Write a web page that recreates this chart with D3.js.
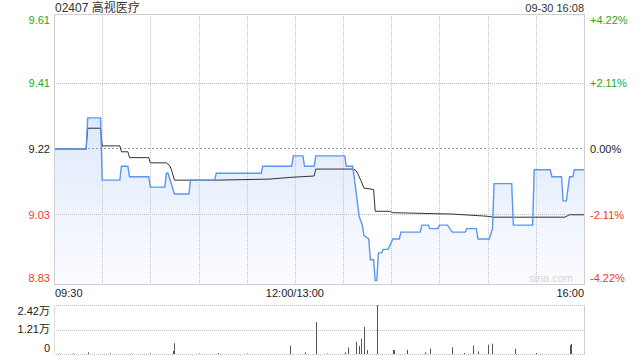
<!DOCTYPE html>
<html>
<head>
    <meta charset="utf-8">
    <title>02407 高视医疗</title>
    <script src="https://d3js.org/d3.v7.min.js"></script>
    <style>
        body { margin: 0; background: #fff; }
        svg text { font-family: "Liberation Sans", Arial, "Noto Sans CJK SC", sans-serif; }
        .frame { fill: none; stroke: #cfcfcf; }
    </style>
</head>
<body>
<div id="chart"></div>
<script>
    // 分时数据 (分钟: 从09:30起的交易分钟, 共330分钟)
    const priceMin = [0, 20, 21, 29, 30, 41, 42, 46, 47, 59, 60, 69, 70, 71, 75, 84, 85, 100, 101, 129, 130, 148, 149, 155, 156, 162, 163, 181, 182, 186, 188, 190, 192, 193, 196, 197, 199, 200, 201, 202, 204, 205, 208, 211, 215, 216, 228, 229, 233, 234, 239, 240, 245, 248, 256, 257, 263, 264, 271, 273, 274, 285, 286, 298, 299, 309, 310, 316, 317, 319, 321, 323, 324, 330];
    const priceVal = [9.22, 9.22, 9.31, 9.31, 9.13, 9.13, 9.17, 9.17, 9.14, 9.14, 9.11, 9.11, 9.15, 9.15, 9.09, 9.09, 9.13, 9.13, 9.15, 9.15, 9.17, 9.17, 9.20, 9.20, 9.17, 9.17, 9.20, 9.20, 9.17, 9.17, 9.10, 9.025, 9.00, 8.97, 8.96, 8.90, 8.90, 8.84, 8.84, 8.92, 8.92, 8.93, 8.93, 8.96, 8.96, 8.98, 8.98, 9.00, 9.00, 8.99, 8.99, 9.00, 9.00, 8.98, 8.98, 8.99, 8.99, 8.96, 8.96, 8.99, 9.12, 9.12, 9.00, 9.00, 9.16, 9.16, 9.14, 9.14, 9.07, 9.07, 9.14, 9.14, 9.16, 9.16];

    // 均价线
    const avgMin = [0, 20, 21, 29, 30, 41, 42, 46, 47, 59, 60, 70, 72, 73, 75, 101, 134, 145, 147, 162, 163, 186, 188, 189, 191, 193, 199, 200, 209, 211, 248, 269, 274, 318, 321, 330];
    const avgVal = [9.22, 9.22, 9.28, 9.28, 9.229, 9.229, 9.212, 9.212, 9.195, 9.195, 9.18, 9.18, 9.172, 9.162, 9.13, 9.13, 9.133, 9.137, 9.138, 9.142, 9.162, 9.162, 9.158, 9.15, 9.13, 9.107, 9.103, 9.04, 9.04, 9.036, 9.032, 9.026, 9.023, 9.023, 9.03, 9.03];

    // 成交量 (万股)
    const volMin = [3, 12, 21, 35, 48, 60, 74, 75, 90, 102, 120, 147, 156, 163, 170, 181, 183, 188, 190, 191, 193, 195, 201, 211, 212, 220, 231, 234, 248, 255, 261, 264, 270, 273, 287, 300, 321, 322];
    const volVal = [0.03, 0.03, 0.08, 0.03, 0.03, 0.03, 0.15, 0.53, 0.03, 0.05, 0.03, 0.41, 0.08, 1.58, 0.03, 0.08, 0.32, 0.61, 0.40, 0.76, 1.34, 0.19, 2.42, 0.2, 0.2, 0.21, 0.08, 0.26, 0.33, 0.05, 0.42, 0.13, 0.46, 0.51, 0.26, 0.05, 0.45, 0.5];

    const priceTicks = [9.61, 9.41, 9.22, 9.03, 8.83];
    const pctTicks = ["+4.22%", "+2.11%", "0.00%", "-2.11%", "-4.22%"];
    const volTicks = [2.42, 1.21, 0];
    const volTickLabels = ["2.42万", "1.21万", "0"];
    const timeTicks = [0, 30, 60, 90, 120, 150, 180, 210, 240, 270, 300, 330];
    const timeLabels = [[0, "09:30", "start"], [150, "12:00/13:00", "middle"], [330, "16:00", "end"]];
    const prevClose = 9.22;

    const width = 640, height = 360;
    const left = 54, right = 584;

    const svg = d3.select("#chart").append("svg")
        .attr("width", width)
        .attr("height", height);

    const x = d3.scaleLinear().domain([0, 330]).range([left, right]);
    const y = d3.scaleLinear().domain([8.83, 9.61]).range([284, 14]);
    const yv = d3.scaleLinear().domain([0, 2.42]).range([354, 305]);

    const green = "#1fa81f", red = "#f03a2a";
    const tickColor = v => v > prevClose ? green : (v < prevClose ? red : "#222");

    const defs = svg.append("defs");

    // 点状横线用的图案
    const dots = defs.append("pattern").attr("id", "hdots")
        .attr("patternUnits", "userSpaceOnUse").attr("width", 2).attr("height", 1);
    dots.append("rect").attr("width", 1).attr("height", 1).attr("fill", "#bdbdbd");
    const dashes = defs.append("pattern").attr("id", "hdash")
        .attr("patternUnits", "userSpaceOnUse").attr("width", 4).attr("height", 1);
    dashes.append("rect").attr("width", 2).attr("height", 1).attr("fill", "#a0a0a0");

    // 标题
    svg.append("text").attr("x", 55).attr("y", 12)
        .attr("font-size", 12).attr("fill", "#333").text("02407 高视医疗");
    svg.append("text").attr("x", 584).attr("y", 12).attr("text-anchor", "end")
        .attr("font-size", 11).attr("fill", "#333").text("09-30 16:08");

    // 渐变填充
    const grad = defs.append("linearGradient")
        .attr("id", "fillGrad").attr("gradientUnits", "userSpaceOnUse")
        .attr("x1", 0).attr("x2", 0).attr("y1", 110).attr("y2", 284);
    grad.append("stop").attr("offset", 0).attr("stop-color", "#dde8fb");
    grad.append("stop").attr("offset", 1).attr("stop-color", "#fbfcff");

    const pricePts = priceMin.map((m, i) => [m, priceVal[i]]);
    const avgPts = avgMin.map((m, i) => [m, avgVal[i]]);

    svg.append("path")
        .datum(pricePts)
        .attr("fill", "url(#fillGrad)")
        .attr("d", d3.area().x(d => x(d[0])).y0(284).y1(d => y(d[1])));

    // 网格
    svg.append("g").selectAll("rect").data(priceTicks.slice(1, -1)).enter().append("rect")
        .attr("x", left + 1).attr("width", right - left - 1)
        .attr("y", d => Math.floor(y(d))).attr("height", 1)
        .attr("fill", d => d === prevClose ? "url(#hdash)" : "url(#hdots)");
    timeTicks.slice(1, -1).forEach(t => {
        const xx = Math.round(x(t)) + 0.5;
        svg.append("line")
            .attr("x1", xx).attr("x2", xx).attr("y1", 14).attr("y2", 284)
            .attr("stroke", "#c4c4c4").attr("stroke-dasharray", "1,1");
    });

    svg.append("text").attr("x", 573).attr("y", 282).attr("text-anchor", "end")
        .attr("font-size", 11).attr("fill", "#d4d4d4").text("sina.com");

    // 均价线 & 价格线
    svg.append("path").datum(avgPts)
        .attr("fill", "none").attr("stroke", "#333").attr("stroke-width", 1)
        .attr("d", d3.line().x(d => x(d[0])).y(d => y(d[1])));
    svg.append("path").datum(pricePts)
        .attr("fill", "none").attr("stroke", "#5b96ef").attr("stroke-width", 1.4)
        .attr("d", d3.line().x(d => x(d[0])).y(d => y(d[1])));

    svg.append("rect").attr("class", "frame")
        .attr("x", left + 0.5).attr("y", 14.5).attr("width", right - left).attr("height", 270);

    // 左右坐标
    svg.append("g").selectAll("text").data(priceTicks).enter().append("text")
        .attr("x", 50).attr("y", d => Math.max(20, Math.min(278, y(d))))
        .attr("dy", "0.35em").attr("text-anchor", "end").attr("font-size", 11)
        .attr("fill", tickColor).text(d => d.toFixed(2));
    svg.append("g").selectAll("text").data(priceTicks).enter().append("text")
        .attr("x", 590).attr("y", d => Math.max(20, Math.min(278, y(d))))
        .attr("dy", "0.35em").attr("font-size", 11)
        .attr("fill", tickColor).text((d, i) => pctTicks[i]);

    svg.append("g").selectAll("text").data(timeLabels).enter().append("text")
        .attr("x", d => x(d[0]) + (d[2] === "start" ? 1 : 0)).attr("y", 297)
        .attr("text-anchor", d => d[2]).attr("font-size", 11).attr("fill", "#222")
        .text(d => d[1]);

    // 成交量
    svg.append("g").selectAll("rect").data(volTicks).enter().append("rect")
        .attr("x", left).attr("width", right - left + 1)
        .attr("y", d => Math.round(yv(d))).attr("height", 1)
        .attr("fill", "url(#hdots)");
    svg.append("line").attr("x1", left + 0.5).attr("x2", left + 0.5).attr("y1", 305).attr("y2", 355).attr("stroke", "#ddd");
    svg.append("line").attr("x1", right + 0.5).attr("x2", right + 0.5).attr("y1", 305).attr("y2", 355).attr("stroke", "#cfcfcf");

    svg.append("g").selectAll("rect").data(volMin).enter().append("rect")
        .attr("x", d => Math.round(x(d)))
        .attr("width", 1)
        .attr("y", (d, i) => yv(volVal[i]))
        .attr("height", (d, i) => yv(0) - yv(volVal[i]))
        .attr("fill", "#555");

    svg.append("g").selectAll("text").data(volTicks).enter().append("text")
        .attr("x", 50).attr("y", d => Math.max(311, Math.min(348, yv(d))))
        .attr("dy", "0.35em").attr("text-anchor", "end").attr("font-size", 11)
        .attr("fill", "#222").text((d, i) => volTickLabels[i]);
</script>
</body>
</html>
